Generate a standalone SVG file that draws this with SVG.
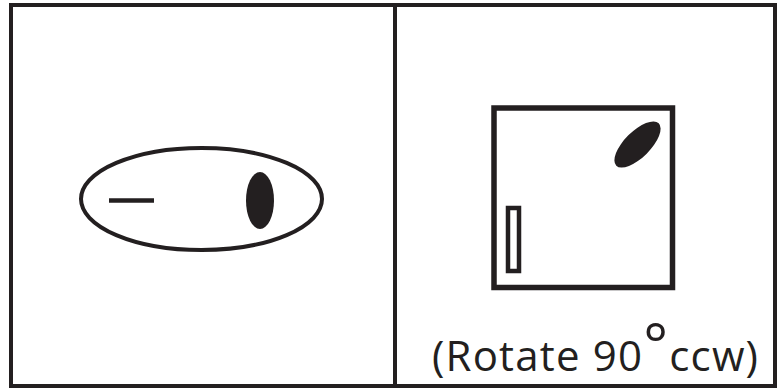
<svg xmlns="http://www.w3.org/2000/svg" width="778" height="390" viewBox="0 0 778 390">
<style>
.frame{fill:none;stroke:#231f20;stroke-width:4}
.ln{fill:none;stroke:#231f20}
.solid{fill:#231f20;stroke:none}
.lbl{font-family:"Open Sans","Noto Sans",sans-serif;font-size:42px;fill:#231f20}
</style>
<rect width="778" height="390" fill="#ffffff"/>
<g id="frame">
<rect class="frame" x="11" y="5" width="764" height="381"/>
<line class="frame" x1="395" y1="5" x2="395" y2="386"/>
</g>
<g id="left-panel">
<ellipse class="ln" cx="201.5" cy="199" rx="120.5" ry="51" stroke-width="4"/>
<line class="ln" x1="109" y1="200.5" x2="154" y2="200.5" stroke-width="4.5"/>
<ellipse class="solid" cx="260" cy="200.5" rx="14" ry="28.5"/>
</g>
<g id="right-panel">
<rect class="ln" x="494" y="108" width="178.5" height="179.5" stroke-width="5.5"/>
<rect class="ln" x="508" y="208" width="11" height="63" stroke-width="4.5"/>
<ellipse class="solid" cx="637.5" cy="144.5" rx="30" ry="13" transform="rotate(-45 637.5 144.5)"/>
<text class="lbl" x="432" y="371" textLength="326" lengthAdjust="spacing">(Rotate 90<tspan font-size="58" dy="-5">°</tspan><tspan dy="5">ccw)</tspan></text>
</g>
</svg>
